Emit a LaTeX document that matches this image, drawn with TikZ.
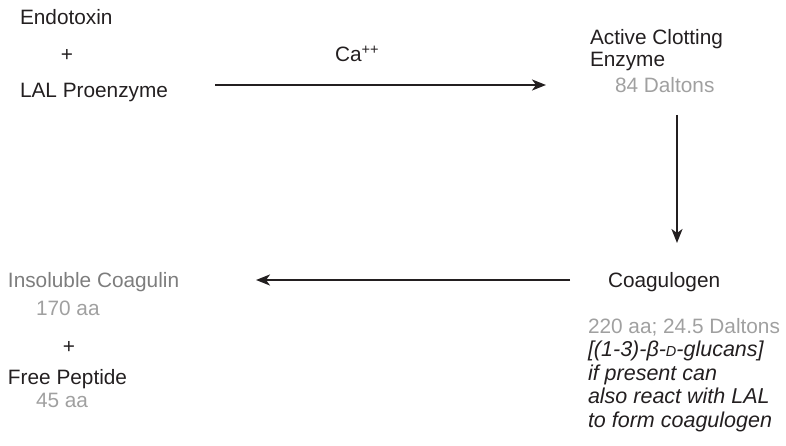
\documentclass[tikz,border=0pt]{standalone}
\usepackage{fontspec}
\setmainfont{Liberation Sans}
\usetikzlibrary{arrows.meta}
\definecolor{ink}{HTML}{231F20}
\definecolor{lightg}{HTML}{A0A0A0}
\definecolor{midg}{HTML}{7D7D7D}
\tikzset{
  txt/.style={anchor=base west, inner sep=0pt, outer sep=0pt, text=ink, font=\fontsize{20.8}{24}\selectfont},
  gtxt/.style={txt, text=lightg},
  mtxt/.style={txt, text=midg},
  itxt/.style={txt, font=\fontsize{21.5}{24}\itshape\selectfont},
  flow/.style={draw=ink, line width=2.2pt, -{Stealth[length=14pt,width=11pt,inset=4pt]}}
}
\begin{document}
\begin{tikzpicture}[x=1pt,y=-1pt]
\useasboundingbox (0,0) rectangle (786,446);
% left top group
\node[txt] (endo) at (20,25) {Endotoxin};
\node[txt, anchor=center] (plus1) at (67,56) {+};
\node[txt] (lal) at (20,98) {LAL Proenzyme};
% arrow 1
\coordinate (a1s) at (215,85);
\coordinate (a1e) at (546,85);
\draw[flow] (a1s) -- (a1e);
\node[txt] (ca) at (335,62) {Ca\textsuperscript{++}};
% right top
\node[txt] (ace1) at (590,45) {Active Clotting};
\node[txt] (ace2) at (590,67) {Enzyme};
\node[gtxt] (d84) at (615,93) {84 Daltons};
% down arrow
\coordinate (a2s) at (677,115);
\coordinate (a2e) at (677,243);
\draw[flow] (a2s) -- (a2e);
% coagulogen
\node[txt] (coag) at (608,287) {Coagulogen};
\node[gtxt] (c220) at (588,333) {220 aa; 24.5 Daltons};
\node[itxt] (i1) at (588,356) {[(1-3)-β-{\fontsize{14.5}{16}\selectfont D}-glucans]};
\node[itxt] (i2) at (588,380) {if present can};
\node[itxt] (i3) at (588,403) {also react with LAL};
\node[itxt] (i4) at (588,427) {to form coagulogen};
% left arrow
\coordinate (a3s) at (570,280);
\coordinate (a3e) at (256,280);
\draw[flow] (a3s) -- (a3e);
% bottom left
\node[mtxt] (ins) at (8,287) {Insoluble Coagulin};
\node[gtxt] (a170) at (36,315) {170 aa};
\node[txt, anchor=center] (plus2) at (69,347) {+};
\node[txt] (fp) at (8,384) {Free Peptide};
\node[gtxt] (a45) at (36,407) {45 aa};
\end{tikzpicture}
\end{document}
